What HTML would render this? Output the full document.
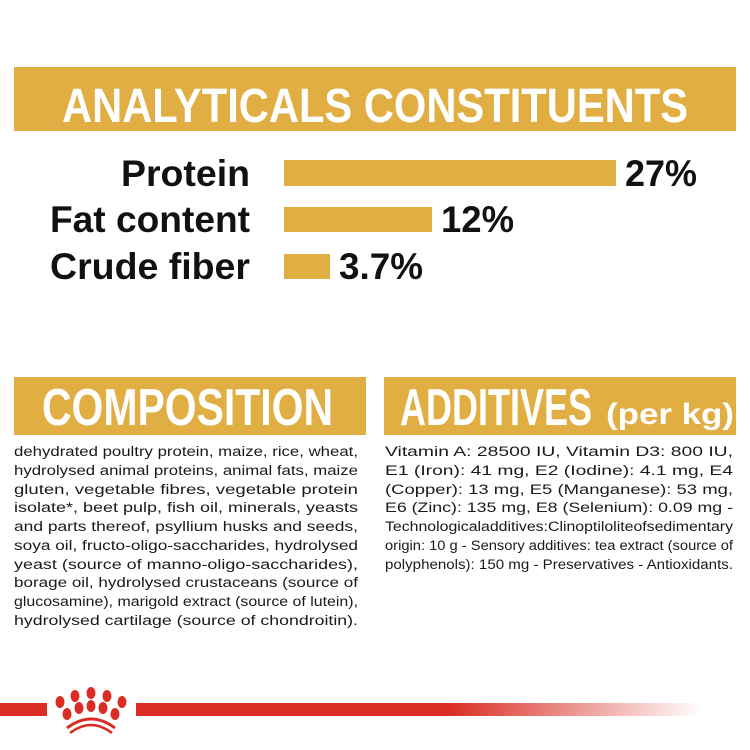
<!DOCTYPE html>
<html><head><meta charset="utf-8"><style>
html,body{margin:0;padding:0;background:#fff;width:750px;height:750px;overflow:hidden}
svg{display:block}
.h{font-family:"Liberation Sans Narrow","Liberation Sans",sans-serif;font-weight:bold}
.b{font-family:"Liberation Sans",sans-serif;font-size:13.5px;fill:#1a1a1a}
</style></head><body>
<svg width="750" height="750" viewBox="0 0 750 750">
<defs><linearGradient id="g" x1="0" x2="1"><stop offset="0" stop-color="#d92d23"/><stop offset="0.55" stop-color="#d92d23"/><stop offset="1" stop-color="#d92d23" stop-opacity="0"/></linearGradient></defs>
<rect x="14" y="67" width="722" height="64" fill="#e0ae42"/>
<text class="h" x="62" y="122" font-size="48" fill="#fff" textLength="626" lengthAdjust="spacingAndGlyphs">ANALYTICALS CONSTITUENTS</text>
<text class="h" x="250" y="186" font-size="37" text-anchor="end" fill="#111" textLength="129" lengthAdjust="spacingAndGlyphs">Protein</text>
<text class="h" x="250" y="232" font-size="37" text-anchor="end" fill="#111" textLength="200" lengthAdjust="spacingAndGlyphs">Fat content</text>
<text class="h" x="250" y="279" font-size="37" text-anchor="end" fill="#111" textLength="200" lengthAdjust="spacingAndGlyphs">Crude fiber</text>
<rect x="284" y="160" width="332" height="26" fill="#e0ae42"/>
<rect x="284" y="207" width="148" height="25" fill="#e0ae42"/>
<rect x="284" y="254" width="46" height="25" fill="#e0ae42"/>
<text class="h" x="625" y="186" font-size="37" fill="#111" textLength="72" lengthAdjust="spacingAndGlyphs">27%</text>
<text class="h" x="441" y="232" font-size="37" fill="#111" textLength="73" lengthAdjust="spacingAndGlyphs">12%</text>
<text class="h" x="339" y="279" font-size="37" fill="#111" textLength="84" lengthAdjust="spacingAndGlyphs">3.7%</text>
<rect x="14" y="377" width="352" height="58" fill="#e0ae42"/>
<rect x="384" y="377" width="352" height="58" fill="#e0ae42"/>
<text class="h" x="42" y="425" font-size="52" fill="#fff" textLength="291" lengthAdjust="spacingAndGlyphs">COMPOSITION</text>
<text class="h" x="400" y="425" font-size="52" fill="#fff" textLength="192" lengthAdjust="spacingAndGlyphs">ADDITIVES</text>
<text class="h" x="606" y="424" font-size="30" fill="#fff" textLength="128" lengthAdjust="spacingAndGlyphs">(per kg)</text>
<g class="b">
<text x="14" y="456" textLength="344" lengthAdjust="spacingAndGlyphs">dehydrated poultry protein, maize, rice, wheat,</text>
<text x="14" y="475" textLength="344" lengthAdjust="spacingAndGlyphs">hydrolysed animal proteins, animal fats, maize</text>
<text x="14" y="494" textLength="344" lengthAdjust="spacingAndGlyphs">gluten,   vegetable   fibres,   vegetable   protein</text>
<text x="14" y="512" textLength="344" lengthAdjust="spacingAndGlyphs">isolate*, beet pulp, fish oil, minerals, yeasts</text>
<text x="14" y="531" textLength="344" lengthAdjust="spacingAndGlyphs">and parts thereof, psyllium husks and seeds,</text>
<text x="14" y="550" textLength="344" lengthAdjust="spacingAndGlyphs">soya oil, fructo-oligo-saccharides, hydrolysed</text>
<text x="14" y="569" textLength="344" lengthAdjust="spacingAndGlyphs">yeast (source of manno-oligo-saccharides),</text>
<text x="14" y="587" textLength="344" lengthAdjust="spacingAndGlyphs">borage oil, hydrolysed crustaceans (source of</text>
<text x="14" y="606" textLength="344" lengthAdjust="spacingAndGlyphs">glucosamine), marigold extract (source of lutein),</text>
<text x="14" y="625" textLength="344" lengthAdjust="spacingAndGlyphs">hydrolysed cartilage (source of chondroitin).</text>
<text x="385" y="456" textLength="348" lengthAdjust="spacingAndGlyphs">Vitamin  A:  28500  IU,  Vitamin  D3:  800  IU,</text>
<text x="385" y="475" textLength="348" lengthAdjust="spacingAndGlyphs">E1  (Iron):  41  mg,  E2  (Iodine):  4.1  mg,  E4</text>
<text x="385" y="494" textLength="348" lengthAdjust="spacingAndGlyphs">(Copper):  13  mg,  E5  (Manganese):  53  mg,</text>
<text x="385" y="512" textLength="348" lengthAdjust="spacingAndGlyphs">E6 (Zinc): 135 mg, E8 (Selenium): 0.09 mg -</text>
<text x="385" y="531" textLength="348" lengthAdjust="spacingAndGlyphs">Technologicaladditives:Clinoptiloliteofsedimentary</text>
<text x="385" y="550" textLength="348" lengthAdjust="spacingAndGlyphs">origin: 10 g - Sensory additives: tea extract (source of</text>
<text x="385" y="569" textLength="348" lengthAdjust="spacingAndGlyphs">polyphenols): 150 mg - Preservatives - Antioxidants.</text>
</g>
<rect x="0" y="703" width="47" height="13" fill="#d92d23"/>
<rect x="136" y="703" width="566" height="13" fill="url(#g)"/>
<g fill="#d92d23">
<ellipse cx="60" cy="702" rx="4.5" ry="6"/>
<ellipse cx="75" cy="696" rx="4.5" ry="6"/>
<ellipse cx="91" cy="693" rx="4.5" ry="6"/>
<ellipse cx="107" cy="696" rx="4.5" ry="6"/>
<ellipse cx="122" cy="702" rx="4.5" ry="6"/>
<ellipse cx="67" cy="714" rx="4.5" ry="6"/>
<ellipse cx="79" cy="708" rx="4.5" ry="6"/>
<ellipse cx="91" cy="706" rx="4.5" ry="6"/>
<ellipse cx="103" cy="708" rx="4.5" ry="6"/>
<ellipse cx="115" cy="714" rx="4.5" ry="6"/>
</g>
<path d="M67 728 Q91 710 115 728" stroke="#d92d23" stroke-width="3" fill="none"/>
<path d="M70 733 Q91 717 112 733" stroke="#d92d23" stroke-width="2.5" fill="none"/>
</svg>
</body></html>
